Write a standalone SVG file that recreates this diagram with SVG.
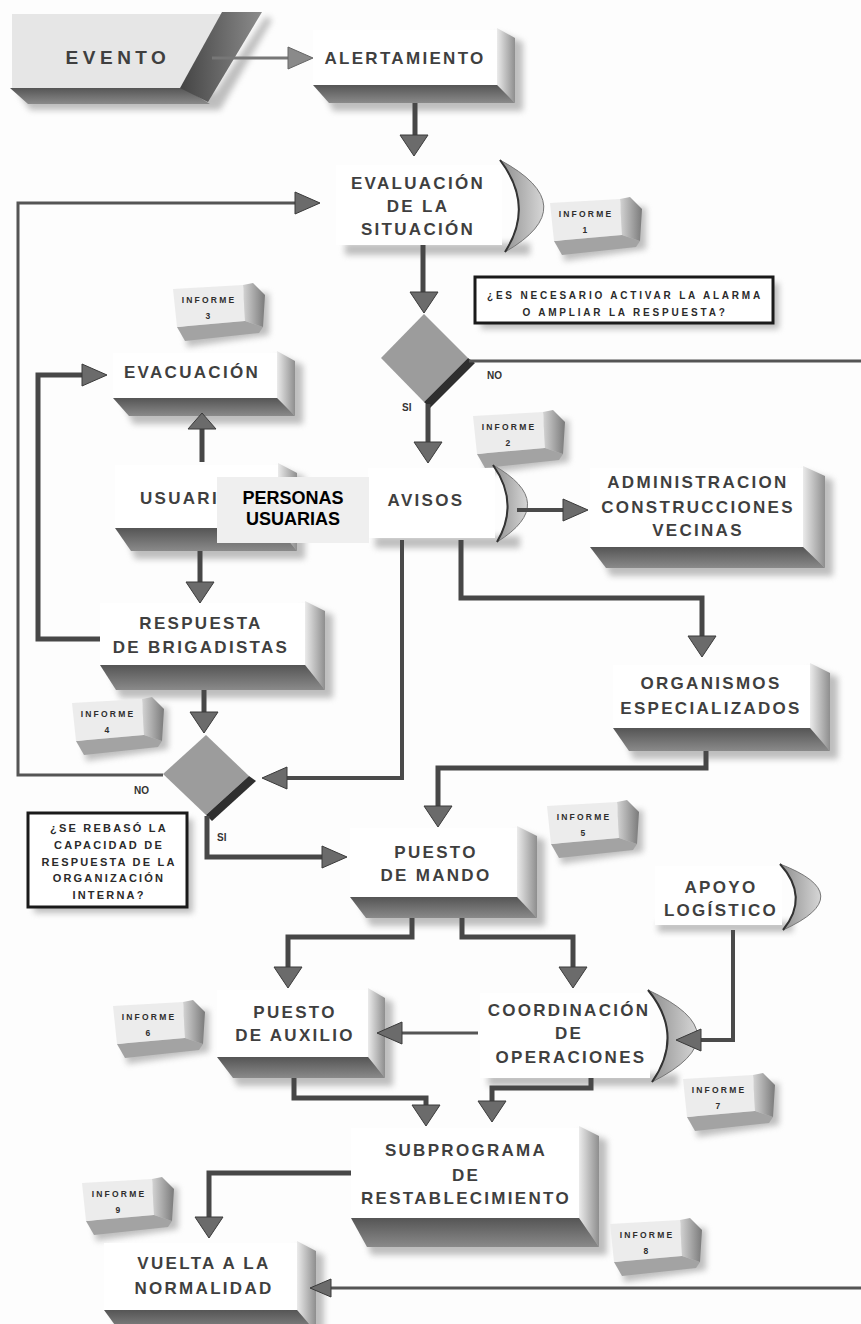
<svg xmlns="http://www.w3.org/2000/svg" width="861" height="1324" viewBox="0 0 861 1324">
<style>
.t{font-family:"Liberation Sans",Arial,sans-serif;font-weight:bold;font-size:17px;letter-spacing:2.3px;fill:#3f3f3f;text-anchor:middle}
.q{font-family:"Liberation Sans",Arial,sans-serif;font-weight:bold;font-size:10px;letter-spacing:2.8px;fill:#2a2a2a;text-anchor:middle}
.q2{font-family:"Liberation Sans",Arial,sans-serif;font-weight:bold;font-size:11px;letter-spacing:2.2px;fill:#2a2a2a;text-anchor:middle}
.i{font-family:"Liberation Sans",Arial,sans-serif;font-weight:bold;font-size:8.5px;letter-spacing:2.2px;fill:#2e2e2e;text-anchor:middle}
.lb{font-family:"Liberation Sans",Arial,sans-serif;font-weight:bold;font-size:10px;fill:#333}
.ov{font-family:"Liberation Sans",Arial,sans-serif;font-weight:bold;font-size:18px;fill:#000;text-anchor:middle}
.face{fill:#fff}
.side{fill:url(#gSide)}
.bot{fill:url(#gBot)}
.sh{fill:#8a8a8a;opacity:.55;filter:url(#blur)}
.cres{fill:url(#gCres);stroke:#777;stroke-width:1}
.cin{fill:none;stroke:#333;stroke-width:2}
.dia{fill:#9c9c9c}
.diab{fill:#2f2f2f}
.qb{fill:#fff;stroke:#1a1a1a;stroke-width:3}
.w5{fill:none;stroke:#474747;stroke-width:5}
.w4{fill:none;stroke:#4a4a4a;stroke-width:4}
.w3{fill:none;stroke:#555;stroke-width:3}
.ah{fill:#6b6b6b;stroke:#3a3a3a;stroke-width:1}
.ahl{fill:#8a8a8a;stroke:#666;stroke-width:1}
</style>
<defs>
<filter id="blur" x="-0.3" y="-0.6" width="1.6" height="2.2"><feGaussianBlur stdDeviation="3"/></filter>
<linearGradient id="gSide" x1="0" y1="0" x2="1" y2="0"><stop offset="0" stop-color="#ebebeb"/><stop offset="1" stop-color="#8e8e8e"/></linearGradient>
<linearGradient id="gBot" x1="0" y1="0" x2="0" y2="1"><stop offset="0" stop-color="#555"/><stop offset="1" stop-color="#8a8a8a"/></linearGradient>
<linearGradient id="gCres" x1="0" y1="0" x2="1" y2="0"><stop offset="0" stop-color="#8d8d8d"/><stop offset="1" stop-color="#d6d6d6"/></linearGradient>
<linearGradient id="gEv" x1="0" y1="0" x2="1" y2="0"><stop offset="0" stop-color="#444"/><stop offset="1" stop-color="#8c8c8c"/></linearGradient>
<linearGradient id="gInf" x1="0" y1="0" x2="1" y2="0"><stop offset="0" stop-color="#d4d4d4"/><stop offset="1" stop-color="#7a7a7a"/></linearGradient>
<g id="inf">
<polygon class="sh" points="8,12 96,10 96,52 14,64"/>
<polygon points="4,44 72,38 90,44 86,50 12,58" fill="#a3a3a3"/>
<polygon points="70,2 80,0 92,12 90,44 72,38" fill="url(#gInf)"/>
<polygon points="0,6 70,2 72,38 4,44" fill="#ececec"/>
</g>
<path id="aD" d="M-14,-21 L14,-21 L0,0 Z"/>
<path id="aU" d="M-14,16 L14,16 L0,0 Z"/>
<path id="aR" d="M-25,-11 L-25,11 L0,0 Z"/>
<path id="aL" d="M25,-11 L25,11 L0,0 Z"/>
<path id="aLs" d="M21,-9 L21,9 L0,0 Z"/>
</defs>
<rect width="861" height="1324" fill="#fdfdfd"/>

<g id="evento">
<polygon class="sh" points="18,92 215,92 266,16 272,20 220,110 30,110"/>
<polygon points="10,88 184,88 210,104 28,104" fill="url(#gBot)"/>
<polygon points="12,14 222,14 180,88 12,88" fill="#e6e6e6"/>
<polygon points="222,12 262,12 208,102 180,88" fill="url(#gEv)"/>
<text class="t" x="118" y="64" style="font-size:19px;letter-spacing:4.5px">EVENTO</text>
</g>

<g id="alertamiento">
<polygon class="sh" points="501,34 523,42 523,111 333,111 323,89"/>
<rect class="face" x="313" y="30" width="184" height="55"/>
<polygon class="side" points="497,28 515,38 515,103 497,85"/>
<polygon class="bot" points="313,85 497,85 515,103 329,103"/>
<text class="t" x="405" y="64">ALERTAMIENTO</text>
</g>

<g id="evaluacion">
<rect class="sh" x="345" y="243" width="185" height="12"/>
<rect class="face" x="336" y="165" width="166" height="80"/>
<path class="cres" d="M500,160 Q585,206 505,252 Q535,206 500,160 Z"/>
<path class="cin" d="M500,160 Q535,206 505,252"/>
<text class="t" x="418" y="189">EVALUACIÓN</text>
<text class="t" x="418" y="212">DE LA</text>
<text class="t" x="418" y="235">SITUACIÓN</text>
</g>

<g id="informe-1"><use href="#inf" x="550" y="197"/><text class="i" x="586" y="217">INFORME</text><text class="i" x="586" y="233">1</text></g>

<g id="pregunta-alarma">
<rect class="sh" x="481" y="283" width="298" height="46"/>
<rect class="qb" x="475" y="277" width="298" height="46"/>
<text class="q" x="625" y="299">¿ES NECESARIO ACTIVAR LA ALARMA</text>
<text class="q" x="625" y="316">O AMPLIAR LA RESPUESTA?</text>
</g>

<g id="decision-alarma">
<polygon class="dia" points="424,314 468,358 424,402 381,358"/>
<polygon class="diab" points="468,358 475,363 430,408 424,402"/>
</g>

<g id="informe-2"><use href="#inf" x="473" y="410"/><text class="i" x="509" y="430">INFORME</text><text class="i" x="509" y="446">2</text></g>

<g id="avisos">
<rect class="sh" x="375" y="536" width="145" height="12"/>
<rect class="face" x="368" y="468" width="127" height="70"/>
<path class="cres" d="M493,465 Q560,503 497,542 Q520,503 493,465 Z"/>
<path class="cin" d="M493,465 Q520,503 497,542"/>
<text class="t" x="426" y="506">AVISOS</text>
</g>

<g id="administracion">
<polygon class="sh" points="807,472 833,480 833,576 610,576 600,551"/>
<rect class="face" x="590" y="468" width="213" height="79"/>
<polygon class="side" points="803,466 825,476 825,568 803,547"/>
<polygon class="bot" points="590,547 803,547 825,568 606,568"/>
<text class="t" x="698" y="488">ADMINISTRACION</text>
<text class="t" x="698" y="513">CONSTRUCCIONES</text>
<text class="t" x="698" y="536">VECINAS</text>
</g>

<g id="informe-3"><use href="#inf" x="173" y="283"/><text class="i" x="209" y="303">INFORME</text><text class="i" x="209" y="319">3</text></g>

<g id="evacuacion">
<polygon class="sh" points="281,357 303,365 303,424 133,424 123,402"/>
<rect class="face" x="113" y="353" width="164" height="45"/>
<polygon class="side" points="277,351 295,361 295,416 277,398"/>
<polygon class="bot" points="113,398 277,398 295,416 129,416"/>
<text class="t" x="192" y="378">EVACUACIÓN</text>
</g>

<g id="usuarios">
<polygon class="sh" points="282,469 305,477 305,559 135,559 125,532"/>
<rect class="face" x="115" y="465" width="163" height="63"/>
<polygon class="side" points="278,463 297,473 297,551 278,528"/>
<polygon class="bot" points="115,528 278,528 297,551 131,551"/>
<text class="t" x="140" y="504" style="text-anchor:start">USUARI</text>
</g>

<g id="respuesta-brigadistas">
<polygon class="sh" points="309,607 333,615 333,698 120,698 110,669"/>
<rect class="face" x="100" y="603" width="205" height="62"/>
<polygon class="side" points="305,601 325,611 325,690 305,665"/>
<polygon class="bot" points="100,665 305,665 325,690 116,690"/>
<text class="t" x="201" y="629">RESPUESTA</text>
<text class="t" x="201" y="653">DE BRIGADISTAS</text>
</g>

<g id="informe-4"><use href="#inf" x="72" y="697"/><text class="i" x="108" y="717">INFORME</text><text class="i" x="108" y="733">4</text></g>

<g id="decision-capacidad">
<polygon class="dia" points="206,735 249,776 206,815 163,774"/>
<polygon class="diab" points="249,776 256,781 212,821 206,815"/>
</g>

<g id="pregunta-capacidad">
<rect class="sh" x="34" y="819" width="159" height="94"/>
<rect class="qb" x="28" y="813" width="159" height="94"/>
<text class="q2" x="109" y="832">¿SE REBASÓ LA</text>
<text class="q2" x="109" y="849">CAPACIDAD DE</text>
<text class="q2" x="109" y="866">RESPUESTA DE LA</text>
<text class="q2" x="109" y="882">ORGANIZACIÓN</text>
<text class="q2" x="109" y="899">INTERNA?</text>
</g>

<g id="organismos">
<polygon class="sh" points="814,669 838,677 838,759 633,759 623,732"/>
<rect class="face" x="613" y="665" width="197" height="63"/>
<polygon class="side" points="810,663 830,673 830,751 810,728"/>
<polygon class="bot" points="613,728 810,728 830,751 629,751"/>
<text class="t" x="711" y="689">ORGANISMOS</text>
<text class="t" x="711" y="714">ESPECIALIZADOS</text>
</g>

<g id="informe-5"><use href="#inf" x="547" y="800"/><text class="i" x="584" y="820">INFORME</text><text class="i" x="584" y="836">5</text></g>

<g id="puesto-mando">
<polygon class="sh" points="521,832 545,840 545,926 370,926 360,901"/>
<rect class="face" x="350" y="828" width="167" height="69"/>
<polygon class="side" points="517,826 537,836 537,918 517,897"/>
<polygon class="bot" points="350,897 517,897 537,918 366,918"/>
<text class="t" x="436" y="858">PUESTO</text>
<text class="t" x="436" y="881">DE MANDO</text>
</g>

<g id="apoyo-logistico">
<rect class="sh" x="658" y="922" width="135" height="10"/>
<rect class="face" x="655" y="866" width="127" height="59"/>
<path class="cres" d="M780,864 Q860,895 783,930 Q810,897 780,864 Z"/>
<path class="cin" d="M780,864 Q810,897 783,930"/>
<text class="t" x="721" y="893">APOYO</text>
<text class="t" x="721" y="916">LOGÍSTICO</text>
</g>

<g id="informe-6"><use href="#inf" x="113" y="1000"/><text class="i" x="149" y="1020">INFORME</text><text class="i" x="149" y="1036">6</text></g>

<g id="puesto-auxilio">
<polygon class="sh" points="372,994 393,1002 393,1086 237,1086 227,1061"/>
<rect class="face" x="217" y="990" width="151" height="67"/>
<polygon class="side" points="368,988 385,998 385,1078 368,1057"/>
<polygon class="bot" points="217,1057 368,1057 385,1078 233,1078"/>
<text class="t" x="295" y="1018">PUESTO</text>
<text class="t" x="295" y="1041">DE AUXILIO</text>
</g>

<g id="coordinacion">
<rect class="sh" x="488" y="1074" width="190" height="12"/>
<rect class="face" x="480" y="993" width="170" height="85"/>
<path class="cres" d="M648,990 Q745,1035 652,1082 Q685,1035 648,990 Z"/>
<path class="cin" d="M648,990 Q685,1035 652,1082"/>
<text class="t" x="569" y="1016">COORDINACIÓN</text>
<text class="t" x="569" y="1039">DE</text>
<text class="t" x="571" y="1063">OPERACIONES</text>
</g>

<g id="informe-7"><use href="#inf" x="683" y="1073"/><text class="i" x="719" y="1093">INFORME</text><text class="i" x="719" y="1109">7</text></g>

<g id="subprograma">
<polygon class="sh" points="583,1132 607,1140 607,1255 371,1255 361,1222"/>
<rect class="face" x="351" y="1128" width="228" height="90"/>
<polygon class="side" points="579,1126 599,1136 599,1247 579,1218"/>
<polygon class="bot" points="351,1218 579,1218 599,1247 367,1247"/>
<text class="t" x="466" y="1156">SUBPROGRAMA</text>
<text class="t" x="466" y="1181">DE</text>
<text class="t" x="466" y="1204">RESTABLECIMIENTO</text>
</g>

<g id="informe-8"><use href="#inf" x="610" y="1218"/><text class="i" x="647" y="1238">INFORME</text><text class="i" x="647" y="1254">8</text></g>

<g id="informe-9"><use href="#inf" x="82" y="1177"/><text class="i" x="119" y="1197">INFORME</text><text class="i" x="119" y="1213">9</text></g>

<g id="vuelta-normalidad">
<polygon class="sh" points="301,1247 324,1255 324,1340 124,1340 114,1314"/>
<rect class="face" x="104" y="1243" width="193" height="67"/>
<polygon class="side" points="297,1241 316,1251 316,1332 297,1310"/>
<polygon class="bot" points="104,1310 297,1310 316,1332 120,1332"/>
<text class="t" x="204" y="1269">VUELTA A LA</text>
<text class="t" x="204" y="1294">NORMALIDAD</text>
</g>

<g id="connectors">
<path d="M212,58 H289" style="fill:none;stroke:#777;stroke-width:3"/>
<use href="#aR" class="ahl" x="313" y="58"/>
<path class="w5" d="M415,103 V136"/>
<use href="#aD" class="ah" x="414" y="156"/>
<path class="w5" d="M423,245 V293"/>
<use href="#aD" class="ah" x="424" y="313"/>
<path class="w3" d="M469,361 H861"/>
<path class="w5" d="M428,404 V443"/>
<use href="#aD" class="ah" x="428" y="463"/>
<path class="w4" d="M517,510 H565"/>
<use href="#aR" class="ah" x="588" y="510"/>
<path class="w5" d="M461,540 V598 H702 V637"/>
<use href="#aD" class="ah" x="702" y="657"/>
<path class="w4" d="M402,540 V778 H285"/>
<use href="#aL" class="ah" x="262" y="778"/>
<path class="w5" d="M202,462 V428"/>
<use href="#aU" class="ah" x="202" y="413"/>
<path class="w5" d="M200,551 V583"/>
<use href="#aD" class="ah" x="200" y="603"/>
<path class="w5" d="M100,639 H38 V375 H83"/>
<use href="#aR" class="ah" x="107" y="375"/>
<path class="w5" d="M204,690 V712"/>
<use href="#aD" class="ah" x="204" y="733"/>
<path class="w3" d="M163,775 H18 V203 H296"/>
<use href="#aR" class="ah" x="320" y="203"/>
<path class="w5" d="M207,816 V857 H323"/>
<use href="#aR" class="ah" x="347" y="857"/>
<path class="w5" d="M706,751 V768 H438 V807"/>
<use href="#aD" class="ah" x="438" y="827"/>
<path class="w5" d="M412,918 V937 H288 V968"/>
<use href="#aD" class="ah" x="288" y="988"/>
<path class="w5" d="M462,918 V937 H573 V968"/>
<use href="#aD" class="ah" x="573" y="988"/>
<path class="w4" d="M733,930 V1040 H700"/>
<use href="#aL" class="ah" x="676" y="1040"/>
<path class="w3" d="M478,1033 H400"/>
<use href="#aL" class="ah" x="377" y="1033"/>
<path class="w5" d="M294,1078 V1098 H426 V1105"/>
<use href="#aD" class="ah" x="426" y="1126"/>
<path class="w5" d="M591,1078 V1088 H492 V1101"/>
<use href="#aD" class="ah" x="492" y="1122"/>
<path class="w5" d="M351,1173 H209 V1217"/>
<use href="#aD" class="ah" x="209" y="1238"/>
<path class="w3" d="M861,1288 H330"/>
<use href="#aLs" class="ah" x="310" y="1288"/>
<text class="lb" x="487" y="379">NO</text>
<text class="lb" x="402" y="411">SI</text>
<text class="lb" x="134" y="794">NO</text>
<text class="lb" x="217" y="841">SI</text>
</g>

<g id="personas-usuarias">
<rect x="217" y="477" width="152" height="66" fill="#efefef"/>
<text class="ov" x="293" y="504">PERSONAS</text>
<text class="ov" x="293" y="525">USUARIAS</text>
</g>
</svg>
